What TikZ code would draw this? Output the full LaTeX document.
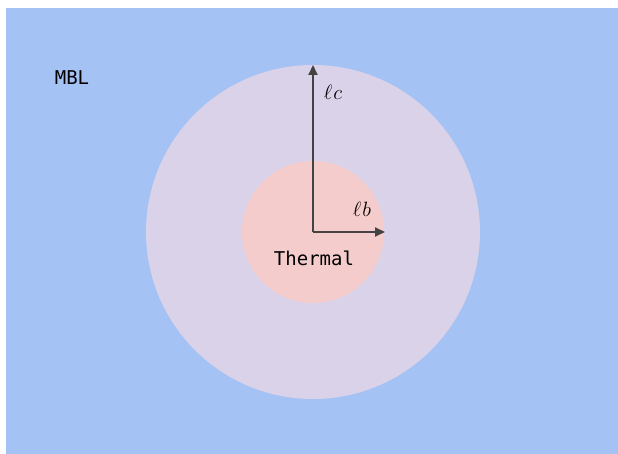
\documentclass[tikz,border=0pt]{standalone}
\usepackage{fontspec}
\setmonofont{DejaVu Sans Mono}
\usetikzlibrary{arrows.meta}
\definecolor{bgblue}{HTML}{A4C2F4}
\definecolor{lav}{HTML}{D9D2E9}
\definecolor{pinkc}{HTML}{F4CCCC}
\definecolor{arr}{HTML}{434343}
\tikzset{
  lbl/.style={font=\fontsize{19}{22}\selectfont\ttfamily, text=black, inner sep=0pt},
  mlbl/.style={font=\fontsize{20}{24}\selectfont, text=black, inner sep=0pt},
  axis/.style={draw=arr, line width=2pt, -{Triangle[length=10pt,width=9pt]}}
}
\begin{document}
\begin{tikzpicture}[x=1pt,y=1pt]
\useasboundingbox (0,0) rectangle (618,454);
\fill[white] (0,0) rectangle (618,454);
\fill[bgblue] (6,0) rectangle (618,446);
\fill[lav] (313,222) circle (167);
\fill[pinkc] (313,222) circle (71);
\coordinate (o) at (313,222);
\coordinate (top) at (313,389);
\coordinate (right) at (385,222);
\draw[axis] (o) -- (top);
\draw[axis] (o) -- (right);
\node[lbl] (mbl) at (72,376) {MBL};
\node[lbl] (thermal) at (314,195.5) {Thermal};
\node[mlbl] (lc) at (333,362) {$\ell\mkern1mu c$};
\node[mlbl] (lb) at (362,245) {$\ell\mkern1mu b$};
\end{tikzpicture}
\end{document}
